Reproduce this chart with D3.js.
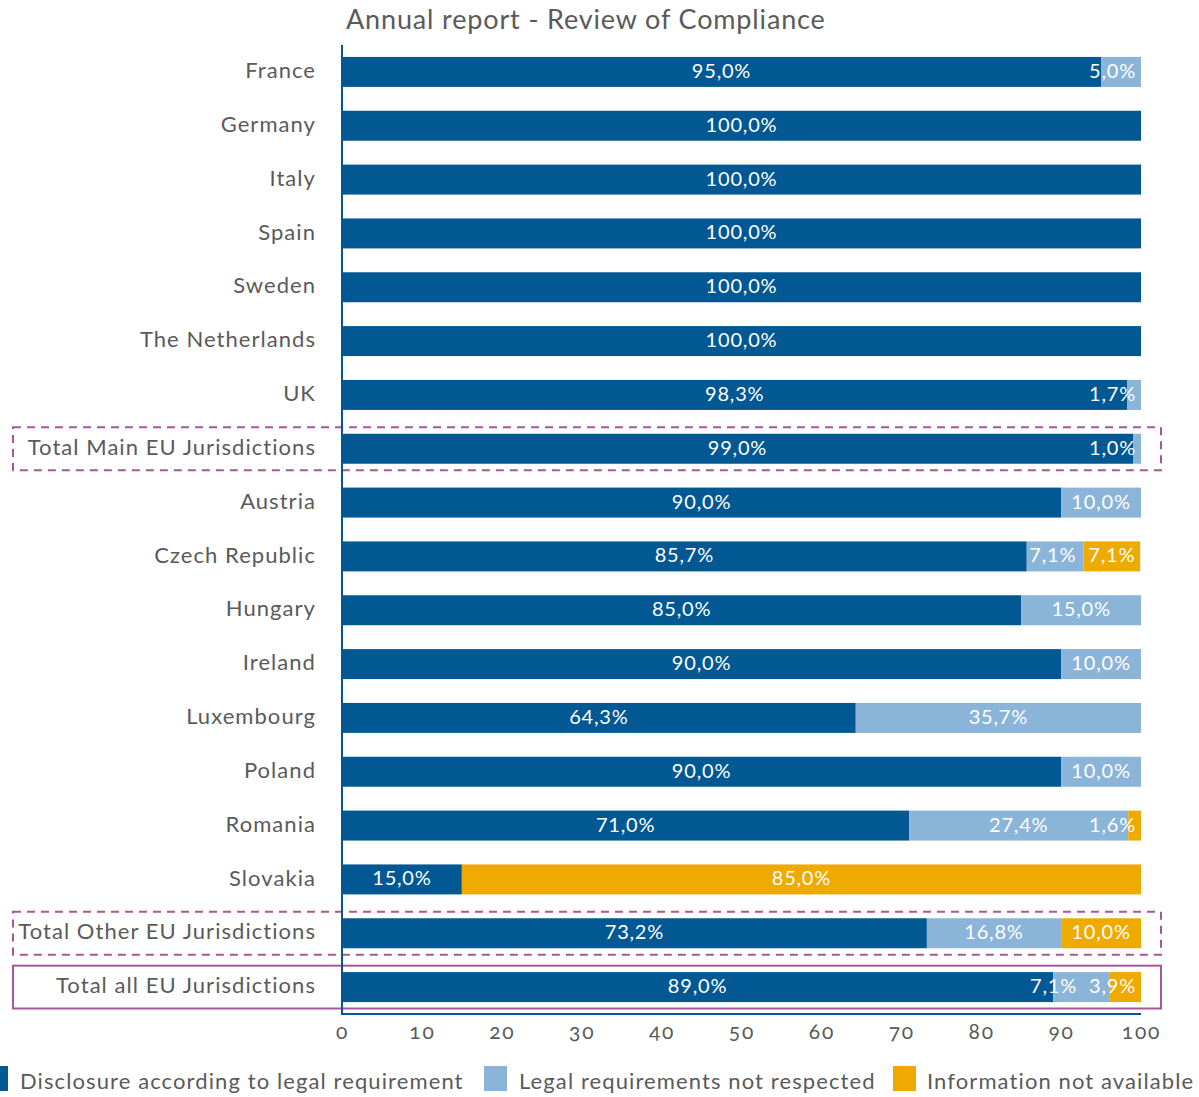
<!DOCTYPE html>
<html>
<head>
<meta charset="utf-8">
<script src="https://cdn.jsdelivr.net/npm/d3@7"></script>
<style>
  html, body { margin: 0; padding: 0; background: #fff; }
  svg { display: block; font-family: "Lato", "Open Sans", sans-serif; }
</style>
</head>
<body>
<svg id="chart" width="1199" height="1097"></svg>
<script>
// Review of compliance, share of issuers per jurisdiction (%)
const categories = [
  "France", "Germany", "Italy", "Spain", "Sweden", "The Netherlands", "UK",
  "Total Main EU Jurisdictions",
  "Austria", "Czech Republic", "Hungary", "Ireland", "Luxembourg", "Poland",
  "Romania", "Slovakia",
  "Total Other EU Jurisdictions", "Total all EU Jurisdictions"
];
const disclosure   = [95.0, 100, 100, 100, 100, 100, 98.3, 99.0, 90.0, 85.7, 85.0, 90.0, 64.3, 90.0, 71.0, 15.0, 73.2, 89.0];
const notRespected = [5.0, 0, 0, 0, 0, 0, 1.7, 1.0, 10.0, 7.1, 15.0, 10.0, 35.7, 10.0, 27.4, 0, 16.8, 7.1];
const notAvailable = [0, 0, 0, 0, 0, 0, 0, 0, 0, 7.1, 0, 0, 0, 0, 1.6, 85.0, 10.0, 3.9];
const xTicks = [0, 10, 20, 30, 40, 50, 60, 70, 80, 90, 100];

const seriesNames = [
  "Disclosure according to legal requirement",
  "Legal requirements not respected",
  "Information not available"
];
const seriesValues = [disclosure, notRespected, notAvailable];
const colors = ["#025893", "#8bb4d9", "#efaa00"];

// Subtotal rows get a dashed frame, the grand total a solid one
const dashedRows = ["Total Main EU Jurisdictions", "Total Other EU Jurisdictions"];
const solidRows = ["Total all EU Jurisdictions"];

const textColor = "#5a5a5a";
const frameColor = "#a9559c";

const svg = d3.select("#chart");

const x = d3.scaleLinear().domain([0, 100]).range([342, 1141]);
const y = d3.scaleBand().domain(categories).range([45, 1014])
  .paddingInner(0.443).paddingOuter(0.2215);

// Title
svg.append("text")
  .attr("x", 346).attr("y", 29)
  .attr("fill", textColor)
  .attr("font-size", 27)
  .attr("letter-spacing", 0.85)
  .text("Annual report - Review of Compliance");

// Stack the three series per category
const rows = categories.map((c, i) => {
  let acc = 0;
  return seriesValues.map((vals, s) => {
    const seg = { cat: c, series: s, v: vals[i], x0: acc, x1: acc + vals[i] };
    acc += vals[i];
    return seg;
  });
});

const barG = svg.append("g");
rows.forEach(segs => {
  segs.filter(d => d.v > 0).forEach(d => {
    barG.append("rect")
      .attr("x", x(d.x0))
      .attr("y", y(d.cat))
      .attr("width", x(d.x1) - x(d.x0))
      .attr("height", y.bandwidth())
      .attr("fill", colors[d.series]);
  });
});

// Value labels: centred when they fit, otherwise tucked against the segment end;
// placed right to left so neighbours never overlap
const fmt = v => v.toFixed(1).replace(".", ",") + "%";
const labelG = svg.append("g")
  .attr("fill", "#fff")
  .attr("font-size", 20)
  .attr("letter-spacing", 0.8);

rows.forEach(segs => {
  let limit = Infinity;
  segs.slice().reverse().filter(d => d.v > 0).forEach(d => {
    const t = labelG.append("text")
      .attr("y", y(d.cat) + y.bandwidth() / 2 - 1)
      .attr("dy", "0.35em")
      .text(fmt(d.v));
    const w = t.node().getComputedTextLength();
    const a = x(d.x0), b = x(d.x1);
    let left;
    if (w + 6 <= b - a) left = (a + b) / 2 - w / 2;
    else left = b - 5 - w;
    if (left + w > limit - 12) left = limit - 12 - w;
    t.attr("x", left);
    limit = left;
  });
});

// Category labels
const catG = svg.append("g")
  .attr("fill", textColor)
  .attr("font-size", 22)
  .attr("letter-spacing", 1.05)
  .attr("text-anchor", "end");
categories.forEach(c => {
  catG.append("text")
    .attr("x", 316)
    .attr("y", y(c) + y.bandwidth() / 2 - 1.5)
    .attr("dy", "0.35em")
    .text(c);
});

// Frames around total rows
const step = y.step();
const bandTop = c => y(c) - (step - y.bandwidth()) / 2;
dashedRows.forEach(c => {
  svg.append("rect")
    .attr("x", 13).attr("y", bandTop(c) + 5.5)
    .attr("width", 1148).attr("height", step - 11)
    .attr("fill", "none")
    .attr("stroke", frameColor).attr("stroke-width", 2)
    .attr("stroke-dasharray", "8,6");
});
solidRows.forEach(c => {
  svg.append("rect")
    .attr("x", 13).attr("y", bandTop(c) + 5.5)
    .attr("width", 1148).attr("height", step - 11)
    .attr("fill", "none")
    .attr("stroke", frameColor).attr("stroke-width", 2);
});

// Axes
const xAxis = d3.axisBottom(x).tickValues(xTicks).tickSize(0).tickPadding(10)
  .tickFormat(d3.format("d"));
const xg = svg.append("g").attr("transform", "translate(0,1014)").call(xAxis);
xg.select(".domain").remove();
xg.selectAll("text")
  .attr("fill", textColor)
  .attr("font-size", 21)
  .attr("letter-spacing", 1.8)
  .attr("font-family", "Lato, sans-serif")
  .style("font-variant-numeric", "oldstyle-nums");

svg.append("path")
  .attr("d", `M${x(0)},45V1014H${x(100)}`)
  .attr("fill", "none")
  .attr("stroke", colors[0])
  .attr("stroke-width", 2);

// Legend
const legendItems = [
  { rx: -15, tx: 20 },
  { rx: 484, tx: 519 },
  { rx: 893, tx: 927 }
];
const legG = svg.append("g");
seriesNames.forEach((name, i) => {
  legG.append("rect")
    .attr("x", legendItems[i].rx).attr("y", 1066)
    .attr("width", 23).attr("height", 25)
    .attr("fill", colors[i]);
  legG.append("text")
    .attr("x", legendItems[i].tx).attr("y", 1089)
    .attr("fill", textColor)
    .attr("font-size", 22)
    .attr("letter-spacing", 1.1)
    .text(name);
});
</script>
</body>
</html>
